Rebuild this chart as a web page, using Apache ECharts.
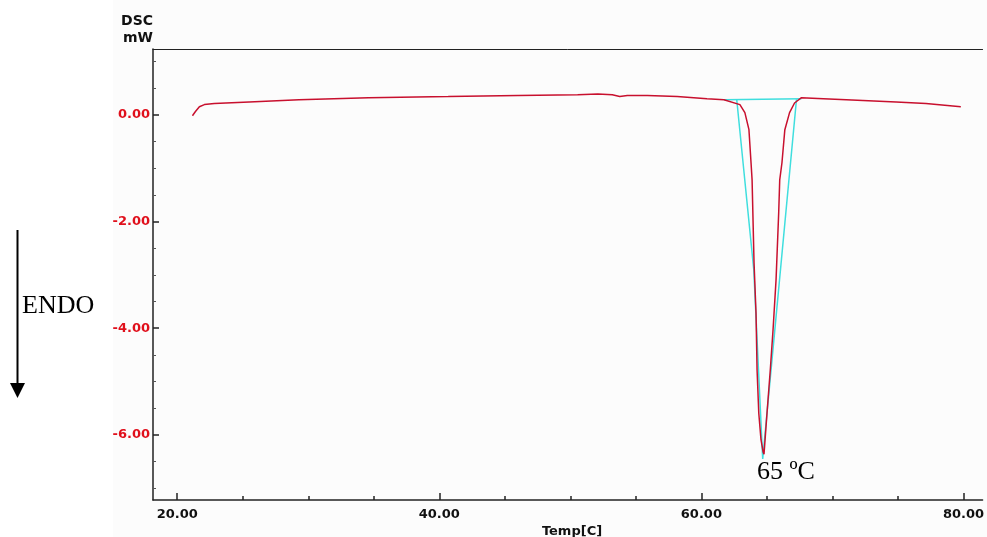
<!DOCTYPE html>
<html>
<head>
<meta charset="utf-8">
<script src="https://cdn.jsdelivr.net/npm/echarts@6/dist/echarts.min.js"></script>
<style>html,body{margin:0;padding:0;background:#fff}#c{width:987px;height:537px}</style>
</head>
<body>
<div id="c"></div>
<script>
// Temperature (°C) of the red DSC trace
var tempC = [21.16, 21.39, 21.69, 22.07, 22.83, 25.49, 29.29, 34.6, 40.68, 46.0, 50.56, 52.1, 53.2, 53.77, 54.35, 55.87, 58.15, 60.43, 61.72, 62.94, 63.32, 63.63, 63.79, 63.87, 64.02, 64.17, 64.25, 64.38, 64.55, 64.71, 64.78, 65.01, 65.26, 65.47, 65.7, 65.9, 65.98, 66.15, 66.37, 66.73, 67.11, 67.64, 69.31, 71.06, 74.86, 77.14, 79.8];
// Heat flow (mW) of the red DSC trace
var heatFlow = [-0.02, 0.06, 0.15, 0.19, 0.21, 0.24, 0.28, 0.32, 0.34, 0.36, 0.375, 0.39, 0.375, 0.34, 0.36, 0.36, 0.34, 0.30, 0.28, 0.19, 0.04, -0.28, -0.90, -1.22, -2.78, -3.71, -4.78, -5.59, -6.09, -6.32, -6.36, -5.59, -4.78, -4.03, -3.09, -1.84, -1.22, -0.90, -0.28, 0.04, 0.22, 0.32, 0.30, 0.28, 0.24, 0.21, 0.15];
// Cyan peak construction lines
var peakT = [62.70, 64.0, 64.68, 67.26];
var peakV = [0.28, -2.91, -6.45, 0.29];
var baseT = [61.72, 67.64];
var baseV = [0.28, 0.30];
// Axis ticks
var xLabels = [20, 40, 60, 80];
var xMinor = [25, 30, 35, 45, 50, 55, 65, 70, 75];
var yLabels = [-6, -4, -2, 0];
var yMinor = [-7, -6.5, -5.5, -5, -4.5, -3.5, -3, -2.5, -1.5, -1, -0.5, 0.5, 1];

function zip(a, b) { return a.map(function (v, i) { return [v, b[i]]; }); }

var XMIN = 18.15, XMAX = 81.46, YMIN = -7.22, YMAX = 1.232;
var lblFont = { fontFamily: 'DejaVu Sans', fontWeight: 'bold', fontSize: 13 };

var chart = echarts.init(document.getElementById('c'), null, { renderer: 'canvas' });
chart.setOption({
  backgroundColor: '#ffffff',
  animation: false,
  grid: { left: 153, top: 49, right: 0, bottom: 37, containLabel: false },
  xAxis: [
    { type: 'value', min: XMIN, max: XMAX, position: 'bottom',
      axisLine: { show: true, onZero: false, lineStyle: { color: '#222', width: 1.5 } },
      splitLine: { show: false },
      axisTick: { show: true, inside: true, length: 7, customValues: xLabels, lineStyle: { color: '#222', width: 1.5 } },
      axisLabel: Object.assign({ show: true, color: '#111', margin: 8, customValues: xLabels,
        formatter: function (v) { return v.toFixed(2); } }, lblFont) },
    { type: 'value', min: XMIN, max: XMAX, position: 'bottom',
      axisLine: { show: false, onZero: false }, splitLine: { show: false },
      axisTick: { show: true, inside: true, length: 4, customValues: xMinor, lineStyle: { color: '#222', width: 1.5 } },
      axisLabel: { show: false } },
    { type: 'value', min: XMIN, max: XMAX, position: 'top',
      axisLine: { show: true, onZero: false, lineStyle: { color: '#222', width: 1 } },
      splitLine: { show: false }, axisTick: { show: false }, axisLabel: { show: false } }
  ],
  yAxis: [
    { type: 'value', min: YMIN, max: YMAX, position: 'left',
      axisLine: { show: true, onZero: false, lineStyle: { color: '#222', width: 1.5 } },
      splitLine: { show: false },
      axisTick: { show: true, inside: true, length: 6, customValues: yLabels, lineStyle: { color: '#222', width: 1.5 } },
      axisLabel: Object.assign({ show: true, color: '#e0101c', margin: 3, customValues: yLabels,
        formatter: function (v) { return v.toFixed(2); } }, lblFont) },
    { type: 'value', min: YMIN, max: YMAX, position: 'left',
      axisLine: { show: false, onZero: false }, splitLine: { show: false },
      axisTick: { show: true, inside: true, length: 3, customValues: yMinor, lineStyle: { color: '#555', width: 1 } },
      axisLabel: { show: false } }
  ],
  series: [
    { type: 'line', xAxisIndex: 0, yAxisIndex: 0, data: zip(baseT, baseV), symbol: 'none',
      lineStyle: { color: '#3fdede', width: 1.5 } },
    { type: 'line', xAxisIndex: 0, yAxisIndex: 0, data: zip(peakT, peakV), symbol: 'none',
      lineStyle: { color: '#3fdede', width: 1.5 } },
    { type: 'line', xAxisIndex: 0, yAxisIndex: 0, data: zip(tempC, heatFlow), symbol: 'none',
      lineStyle: { color: '#c8102e', width: 1.5 } }
  ],
  graphic: [
    { type: 'rect', z: -10, silent: true, shape: { x: 113, y: 0, width: 874, height: 537 }, style: { fill: '#fcfcfc' } },
    { type: 'text', x: 153, y: 21, style: { text: 'DSC', textAlign: 'right', textVerticalAlign: 'middle', font: 'bold 14px "DejaVu Sans"', fill: '#111' } },
    { type: 'text', x: 153, y: 38, style: { text: 'mW', textAlign: 'right', textVerticalAlign: 'middle', font: 'bold 14px "DejaVu Sans"', fill: '#111' } },
    { type: 'text', x: 572, y: 532, style: { text: 'Temp[C]', textAlign: 'center', textVerticalAlign: 'middle', font: 'bold 13px "DejaVu Sans"', fill: '#111' } },
    { type: 'text', x: 786, y: 472, style: { text: '65 ºC', textAlign: 'center', textVerticalAlign: 'middle', font: '26px "Liberation Serif"', fill: '#000' } },
    { type: 'text', x: 22, y: 306, style: { text: 'ENDO', textAlign: 'left', textVerticalAlign: 'middle', font: '26px "Liberation Serif"', fill: '#000' } },
    { type: 'line', shape: { x1: 17.5, y1: 230, x2: 17.5, y2: 385 }, style: { stroke: '#000', lineWidth: 2 } },
    { type: 'polygon', shape: { points: [[10, 383], [25, 383], [17.5, 398]] }, style: { fill: '#000' } }
  ]
});
</script>
</body>
</html>
